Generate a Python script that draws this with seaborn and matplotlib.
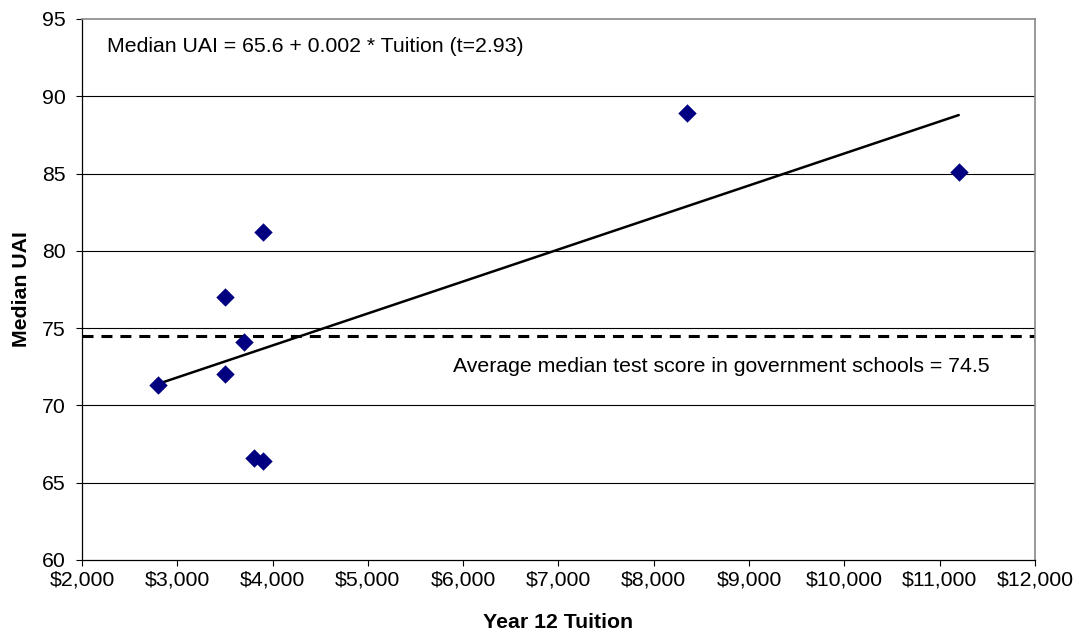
import numpy as np
import pandas as pd
import matplotlib
matplotlib.use("Agg")
import matplotlib.pyplot as plt
import seaborn as sns
from matplotlib.ticker import FuncFormatter

# School observations: year 12 tuition ($) and median UAI
tuition = [2800, 3500, 3500, 3700, 3800, 3900, 3900, 8350, 11200]
median_uai = [71.3, 77.0, 72.0, 74.1, 66.6, 66.4, 81.2, 88.9, 85.1]

# Fitted regression of median UAI on tuition
intercept = 65.6
slope = 0.00207
t_stat = 2.93

# Government-school benchmark
gov_average = 74.5

x_ticks = [2000, 3000, 4000, 5000, 6000, 7000, 8000, 9000, 10000, 11000, 12000]
y_ticks = [60, 65, 70, 75, 80, 85, 90, 95]

sns.set_theme(style="white")
plt.rcParams["font.family"] = ["Liberation Sans", "DejaVu Sans"]

FS = 15.3

df = pd.DataFrame({"tuition": tuition, "uai": median_uai})

fig = plt.figure(figsize=(10.79, 6.37), dpi=100)
ax = fig.add_axes([0.076, 0.1209, 0.8832, 0.8493])

# Horizontal gridlines
for yv in y_ticks[1:-1]:
    ax.axhline(yv, color="black", lw=0.8, zorder=0)

# Benchmark line
ax.axhline(gov_average, color="black", lw=2.2, ls=(0, (3.6, 2.6)), zorder=1)

# Regression line over the observed tuition range
fit_x = np.array([min(tuition), max(tuition)])
fit_y = intercept + slope * fit_x
sns.lineplot(x=fit_x, y=fit_y, ax=ax, color="black", lw=1.8, zorder=3)

sns.scatterplot(data=df, x="tuition", y="uai", ax=ax, marker="D", s=88,
                color="#000080", edgecolor="#000080", linewidth=0, zorder=4)

ax.set_xlim(x_ticks[0], x_ticks[-1])
ax.set_ylim(y_ticks[0], y_ticks[-1])
ax.set_xticks(x_ticks)
ax.set_yticks(y_ticks)
ax.xaxis.set_major_formatter(FuncFormatter(lambda v, p: f"${v:,.0f}"))
ax.tick_params(axis="both", which="major", direction="out", length=4.5, width=0.8,
               color="black", labelsize=FS, labelcolor="black", bottom=True, left=True)
ax.tick_params(axis="x", pad=3)
ax.tick_params(axis="y", pad=7)

for side in ["left", "bottom"]:
    ax.spines[side].set_color("black")
    ax.spines[side].set_linewidth(0.9)
for side in ["top", "right"]:
    ax.spines[side].set_visible(True)
    ax.spines[side].set_color("#888888")
    ax.spines[side].set_linewidth(1.2)

ax.set_xlabel("Year 12 Tuition", fontsize=FS, fontweight="bold", labelpad=17, color="black")
ax.set_ylabel("Median UAI", fontsize=FS, fontweight="bold", labelpad=8, color="black")

ax.text(2262, 93.2, f"Median UAI = {intercept:.1f} + {slope:.3f} * Tuition (t={t_stat:.2f})",
        fontsize=FS, ha="left", va="center", color="black")
ax.text(5893, 72.5, f"Average median test score in government schools = {gov_average:.1f}",
        fontsize=FS, ha="left", va="center", color="black")

fig.savefig("out.png", dpi=100, facecolor="white")
